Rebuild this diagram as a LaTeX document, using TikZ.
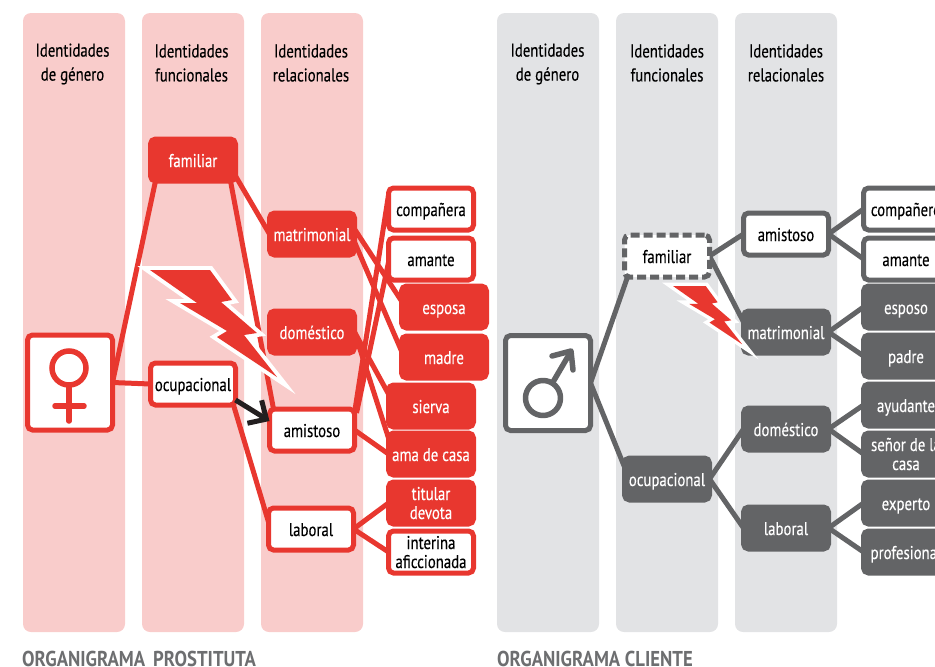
\documentclass[tikz,border=0pt]{standalone}
\usepackage{fontspec}
\setmainfont[FakeStretch=0.8,FakeBold=0.25]{PT Sans}
\newfontfamily\chartfont[FakeStretch=0.87]{PT Sans}
\usetikzlibrary{arrows.meta,backgrounds}
\definecolor{orgred}{HTML}{E8372F}
\definecolor{orggray}{HTML}{636466}
\definecolor{panelpink}{HTML}{F9CCCB}
\definecolor{panelgray}{HTML}{E2E3E5}
\definecolor{orgblack}{HTML}{231F20}
\definecolor{orgtitle}{HTML}{6D6E70}
\tikzset{
    orgbox/.style={rectangle, rounded corners=5pt, line width=5pt, inner sep=0pt,
        outer sep=0pt, minimum width=85pt, minimum height=42pt, align=center,
        text height=19pt, text depth=5pt, font=\fontsize{18.5}{19}\selectfont},
    twolines/.style={text height=37pt, text depth=5pt},
    redfill/.style={orgbox, draw=orgred, fill=orgred, text=white},
    redline/.style={orgbox, draw=orgred, fill=white, text=black},
    grayfill/.style={orgbox, draw=orggray, fill=orggray, text=white},
    grayline/.style={orgbox, draw=orggray, fill=white, text=black},
    graydash/.style={grayline, dash pattern=on 9pt off 4pt},
    genderred/.style={redline, minimum width=85pt, minimum height=95pt},
    gendergray/.style={grayline, minimum width=85pt, minimum height=95pt},
    panel/.style={rectangle, rounded corners=8pt, draw=none, inner sep=0pt,
        minimum width=102pt, minimum height=619pt},
    panelred/.style={panel, fill=panelpink},
    panelgrey/.style={panel, fill=panelgray},
    coltitle/.style={align=center, text=black, font=\fontsize{18.5}{24}\selectfont},
    charttitle/.style={anchor=west, inner sep=0pt, text=orgtitle,
        font=\chartfont\fontsize{21.5}{21}\selectfont\bfseries},
    linkred/.style={draw=orgred, line width=5pt},
    linkgray/.style={draw=orggray, line width=5pt},
    symred/.style={draw=orgred, line width=5.5pt, line cap=round},
    symgray/.style={draw=orggray, line width=5.5pt, line cap=round, line join=round},
    pics/bolt/.style={code={
        \path[draw=white, line width=#1, line join=miter, miter limit=12, fill=white]
            (0,0) -- (60,0) -- (82,30) -- (71,32) -- (107,63) -- (94,65) -- (127,107)
            -- (67,67) -- (77,61) -- (30,33) -- (47,33) -- cycle;
        \path[fill=orgred]
            (0,0) -- (60,0) -- (82,30) -- (71,32) -- (107,63) -- (94,65) -- (127,107)
            -- (67,67) -- (77,61) -- (30,33) -- (47,33) -- cycle;
    }},
}

\begin{document}
\begin{tikzpicture}[x=1pt, y=-1pt]
    \useasboundingbox (0,0) rectangle (935,667);
    \clip (0,0) rectangle (935,667);

    \path (72.5,64) node[coltitle](titlegenf){Identidades\\de género};
    \path (191.5,63) node[coltitle](titlefunf){Identidades\\funcionales};
    \path (311,63) node[coltitle](titlerelf){Identidades\\relacionales};
    \path (547.5,64) node[coltitle](titlegenm){Identidades\\de género};
    \path (667,63) node[coltitle](titlefunm){Identidades\\funcionales};
    \path (786,63) node[coltitle](titlerelm){Identidades\\relacionales};

    \path (70,382.5) node[genderred](female){};
    \path (193,160) node[redfill](famf){familiar};
    \path (193,384) node[redline](ocuf){ocupacional};
    \path (312,234) node[redfill](matf){matrimonial};
    \path (312,332) node[redfill](domf){doméstico};
    \path (312,430) node[redline](amif){amistoso};
    \path (311,529) node[redline](labf){laboral};
    \path (431,209) node[redline](compf){compañera};
    \path (431,259) node[redline](amantf){amante};
    \path (444,307) node[redfill](espf){esposa};
    \path (444,357) node[redfill](madf){madre};
    \path (431,406) node[redfill](sierf){sierva};
    \path (431,454) node[redfill](amaf){ama de casa};
    \path (431,503) node[redfill, twolines](titf){titular\\devota};
    \path (431,552) node[redline, twolines](intf){interina\\aficcionada};

    \path (548,383) node[gendergray](male){};
    \path (667,256) node[graydash](famm){familiar};
    \path (667,479) node[grayfill](ocum){ocupacional};
    \path (786,234) node[grayline](amim){amistoso};
    \path (786,332) node[grayfill](matm){matrimonial};
    \path (786,429) node[grayfill](domm){doméstico};
    \path (786,528) node[grayfill](labm){laboral};
    \path (906,209) node[grayline](compm){compañero};
    \path (906,259) node[grayline](amantm){amante};
    \path (906,307) node[grayfill](espm){esposo};
    \path (906,356) node[grayfill](padm){padre};
    \path (906,405) node[grayfill](ayum){ayudante};
    \path (906,454) node[grayfill, twolines](senm){señor de la\\casa};
    \path (906,503) node[grayfill](expm){experto};
    \path (906,552) node[grayfill](prom){profesional};

    \begin{scope}[on background layer]
        \path (74,322.5) node[panelred](panelgenf){};
        \path (193,322.5) node[panelred](panelfunf){};
        \path (312,322.5) node[panelred](panelrelf){};
        \path (548,322.5) node[panelgrey](panelgenm){};
        \path (667,322.5) node[panelgrey](panelfunm){};
        \path (786,322.5) node[panelgrey](panelrelm){};

        \draw[linkred] (female.east) -- ([xshift=5pt]famf.south west);
        \draw[linkred] (female.east) -- (ocuf.west);
        \draw[linkred] ([yshift=5pt]famf.south east) -- (matf.west);
        \draw[linkred] ([xshift=-5pt]famf.south east) -- ([xshift=4pt]amif.north west);
        \draw[linkred] ([xshift=-2pt]ocuf.south east) -- ([yshift=7pt]labf.west);
        \draw[linkred] ([yshift=5pt]matf.east) -- ([yshift=6pt]espf.west);
        \draw[linkred] ([yshift=-8pt]matf.east) -- ([yshift=6pt]madf.west);
        \draw[linkred] (domf.east) -- ([yshift=12pt]sierf.west);
        \draw[linkred] (domf.east) -- ([yshift=16pt]amaf.west);
        \draw[linkred] (amif.east) -- (amaf.west);
        \draw[linkred] ([yshift=-4pt]amif.north east) -- ([yshift=14pt]compf.west);
        \draw[linkred] ([xshift=2pt,yshift=-4pt]amif.north east) -- ([xshift=2pt,yshift=6pt]amantf.west);
        \draw[linkred] (labf.east) -- (titf.west);
        \draw[linkred] (labf.east) -- (intf.west);

        \draw[linkgray] (male.east) -- ([xshift=3pt]famm.south west);
        \draw[linkgray] (male.east) -- ([yshift=12pt]ocum.west);
        \draw[linkgray] (famm.east) -- (amim.west);
        \draw[linkgray] (famm.east) -- ([yshift=10pt]matm.west);
        \draw[linkgray] (ocum.east) -- (domm.west);
        \draw[linkgray] (ocum.east) -- (labm.west);
        \draw[linkgray] (amim.east) -- (compm.west);
        \draw[linkgray] (amim.east) -- (amantm.west);
        \draw[linkgray] (matm.east) -- (espm.west);
        \draw[linkgray] (matm.east) -- (padm.west);
        \draw[linkgray] (domm.east) -- (ayum.west);
        \draw[linkgray] (domm.east) -- (senm.west);
        \draw[linkgray] (labm.east) -- (expm.west);
        \draw[linkgray] (labm.east) -- (prom.west);
    \end{scope}

    \draw[symred] (69,368) circle (17pt);
    \draw[symred] (69,387) -- (69,421);
    \draw[symred] (55,406) -- (84,406);

    \draw[symgray] (543,398) circle (17.5pt);
    \draw[symgray] (553,382) -- (570,353);
    \draw[symgray] (552,356) -- (571,351) -- (573,370);

    \draw[orgblack, line width=5pt, -{Straight Barb[length=14pt,width=27pt,line width=5pt]}]
        ([yshift=5pt]ocuf.south east) -- ([yshift=9pt]amif.west);

    \pic (boltf) at (150,270) {bolt=8pt};
    \pic[scale=0.545] (boltm) at (673,286) {bolt=7pt};

    \path (22,659) node[charttitle](chartf){ORGANIGRAMA\hspace{8pt}PROSTITUTA};
    \path (497,659) node[charttitle](chartm){ORGANIGRAMA CLIENTE};
\end{tikzpicture}
\end{document}
